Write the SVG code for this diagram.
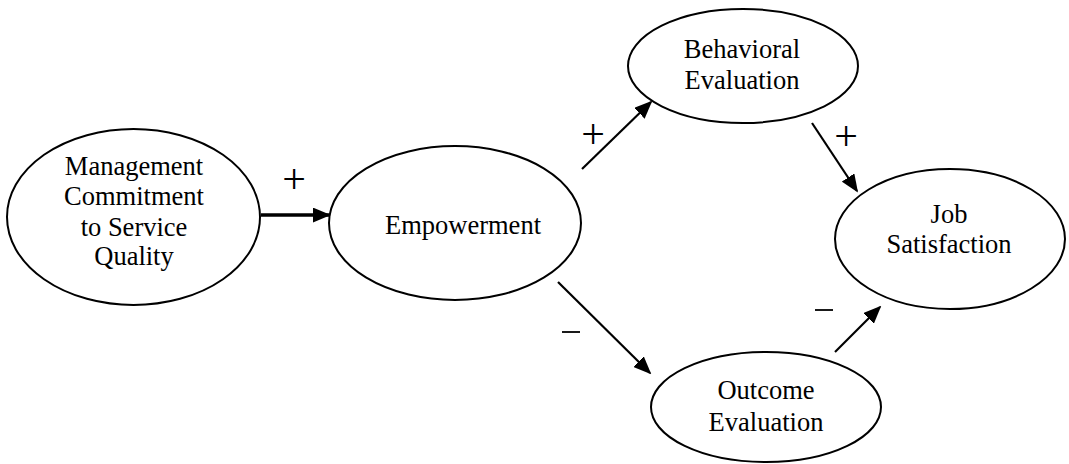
<svg xmlns="http://www.w3.org/2000/svg" width="1069" height="464" viewBox="0 0 1069 464">
<style>
.node ellipse{fill:#fff;stroke:#000;stroke-width:2}
text{font-family:"Liberation Serif","Times New Roman",serif;font-size:26.5px;fill:#000;text-anchor:middle}
.sign{font-size:42px}
.conn line{stroke:#000;stroke-width:2.2}
.conn line.thick{stroke-width:3.4}
.dash{stroke:#000;stroke-width:1.8}
</style>
<defs>
<marker id="ahL" viewBox="0 0 10 10" refX="9" refY="5" markerWidth="18" markerHeight="15" orient="auto" markerUnits="userSpaceOnUse" preserveAspectRatio="none">
<path d="M0,0 L10,5 L0,10 Z" fill="#000"/>
</marker>
</defs>
<g id="mgmt" class="node">
<ellipse cx="133.5" cy="217" rx="126.5" ry="88"/>
<text x="134" y="175">Management</text>
<text x="134" y="205">Commitment</text>
<text x="134" y="236">to Service</text>
<text x="134" y="265">Quality</text>
</g>
<g id="empowerment" class="node">
<ellipse cx="455" cy="223" rx="126" ry="77"/>
<text x="463" y="234">Empowerment</text>
</g>
<g id="behavioral" class="node">
<ellipse cx="743" cy="66" rx="115" ry="57"/>
<text x="742" y="58">Behavioral</text>
<text x="742" y="89">Evaluation</text>
</g>
<g id="outcome" class="node">
<ellipse cx="766" cy="407" rx="115" ry="55"/>
<text x="766" y="399">Outcome</text>
<text x="766" y="431">Evaluation</text>
</g>
<g id="job" class="node">
<ellipse cx="950" cy="239" rx="115" ry="70"/>
<text x="949" y="223">Job</text>
<text x="949" y="253">Satisfaction</text>
</g>
<g id="connectors" class="conn">
<line class="thick" x1="261" y1="215" x2="329" y2="215" marker-end="url(#ahL)"/>
<line x1="582" y1="169" x2="651" y2="102" marker-end="url(#ahL)"/>
<line x1="812" y1="123" x2="857" y2="191" marker-end="url(#ahL)"/>
<line x1="558" y1="282" x2="650" y2="373" marker-end="url(#ahL)"/>
<line x1="835" y1="352" x2="880" y2="307" marker-end="url(#ahL)"/>
</g>
<g id="labels">
<text class="sign" x="294" y="193">+</text>
<text class="sign" x="593" y="148">+</text>
<text class="sign" x="846" y="150">+</text>
<line class="dash" x1="562" y1="332" x2="580" y2="332"/>
<line class="dash" x1="815" y1="310" x2="833" y2="310"/>
</g>
</svg>
